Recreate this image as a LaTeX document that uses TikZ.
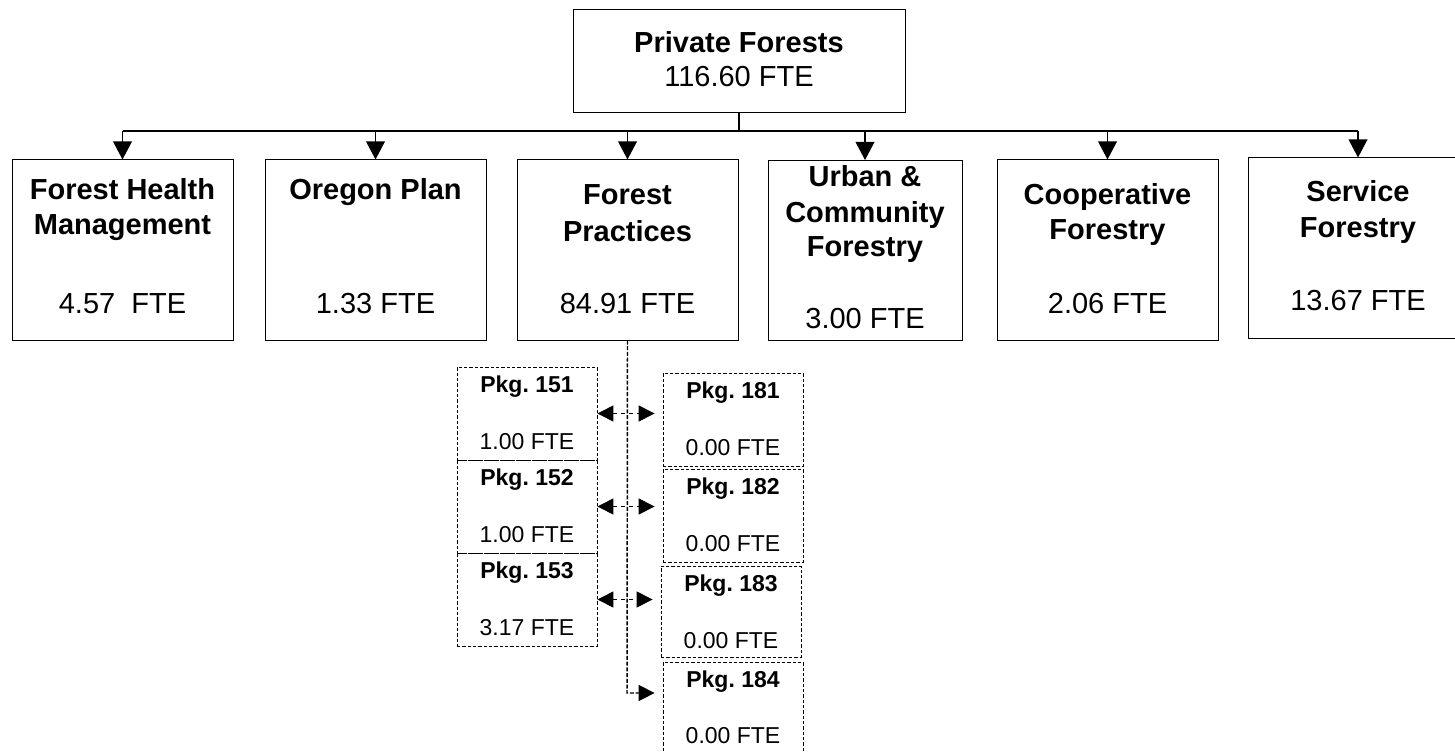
\documentclass[tikz,border=0pt]{standalone}
\usepackage{fontspec}
\setmainfont{Liberation Sans}
\usetikzlibrary{arrows.meta}
\usetikzlibrary{positioning}
\frenchspacing

\tikzset{
  unitbox/.style={draw, line width=0.75pt, minimum width=165.75pt, minimum height=135pt, inner sep=0pt},
  pkgbox/.style={draw, line width=0.6pt, dash pattern=on 2.5pt off 1.5pt, minimum width=105pt, minimum height=69.75pt, inner sep=0pt},
  ttl/.style={font=\fontsize{21.75}{26}\selectfont\bfseries, anchor=base, inner sep=0pt},
  fte/.style={font=\fontsize{21.75}{26}\selectfont, anchor=base, inner sep=0pt},
  pkgttl/.style={font=\fontsize{17.25}{20}\selectfont\bfseries, anchor=base, inner sep=0pt},
  pkgfte/.style={font=\fontsize{17.25}{20}\selectfont, anchor=base, inner sep=0pt},
  down/.style={line width=1.1pt, -{Triangle[width=14pt, length=13.5pt]}},
  link/.style={line width=0.8pt, dash pattern=on 3pt off 3pt, shorten >=6pt,
    {Triangle[width=12pt, length=12pt]}-{Triangle[width=12pt, length=12pt]}}
}

\begin{document}
\begin{tikzpicture}[x=0.75pt, y=-0.75pt]

  \useasboundingbox (0,0) rectangle (1455,752);
  \clip (0,0) rectangle (1455,752);

  % top
  \node [unitbox, minimum width=249pt, minimum height=77.25pt] (pf) at (739,61.5) {};
  \node [ttl] (pf-t) at (739,53) {Private Forests};
  \node [fte] (pf-v) at (739,87) {116.60 FTE};

  \coordinate (bus) at (739,131);

  % units
  \node [unitbox] (fhm) at (122.5,250) {};
  \node [ttl] (fhm-t1) at (122.5,200) {Forest Health};
  \node [ttl] (fhm-t2) at (122.5,235) {Management};
  \node [fte] (fhm-v) at (122.5,313) {4.57\ \ FTE};

  \node [unitbox] (op) at (375.5,250) {};
  \node [ttl] (op-t1) at (375.5,200) {Oregon Plan};
  \node [fte] (op-v) at (375.5,313) {1.33 FTE};

  \node [unitbox] (fp) at (627.5,250) {};
  \node [ttl] (fp-t1) at (627.5,205) {Forest};
  \node [ttl] (fp-t2) at (627.5,242) {Practices};
  \node [fte] (fp-v) at (627.5,313) {84.91 FTE};

  \node [unitbox, minimum width=145.5pt] (ucf) at (865,250.5) {};
  \node [ttl] (ucf-t1) at (865,187) {Urban \&};
  \node [ttl] (ucf-t2) at (865,223) {Community};
  \node [ttl] (ucf-t3) at (865,257) {Forestry};
  \node [fte] (ucf-v) at (865,328) {3.00 FTE};

  \node [unitbox] (cf) at (1107.5,250) {};
  \node [ttl] (cf-t1) at (1107.5,205) {Cooperative};
  \node [ttl] (cf-t2) at (1107.5,240) {Forestry};
  \node [fte] (cf-v) at (1107.5,313) {2.06 FTE};

  \node [unitbox, minimum width=165pt] (sf) at (1358,248) {};
  \node [ttl] (sf-t1) at (1358,202) {Service};
  \node [ttl] (sf-t2) at (1358,238) {Forestry};
  \node [fte] (sf-v) at (1358,310) {13.67 FTE};

  \draw [line width=2.2pt] (pf.south) -- (bus);
  \draw [line width=1.8pt] (fhm.north |- bus) -- (sf.north |- bus);
  \foreach \b in {fhm,op,fp,ucf,cf,sf}
    \draw [down] (\b.north |- bus) -- (\b.north);

  % packages
  \node [pkgbox] (p151) at (527,413.5) {};
  \node [pkgttl] (p151-t) at (527,392) {Pkg. 151};
  \node [pkgfte] (p151-v) at (527,449) {1.00 FTE};

  \node [pkgbox] (p152) at (527,506.5) {};
  \node [pkgttl] (p152-t) at (527,485) {Pkg. 152};
  \node [pkgfte] (p152-v) at (527,542) {1.00 FTE};

  \node [pkgbox] (p153) at (527,599.5) {};
  \node [pkgttl] (p153-t) at (527,578) {Pkg. 153};
  \node [pkgfte] (p153-v) at (527,635) {3.17 FTE};

  \node [pkgbox] (p181) at (733,419.5) {};
  \node [pkgttl] (p181-t) at (733,398) {Pkg. 181};
  \node [pkgfte] (p181-v) at (733,455) {0.00 FTE};

  \node [pkgbox] (p182) at (733,515.5) {};
  \node [pkgttl] (p182-t) at (733,494) {Pkg. 182};
  \node [pkgfte] (p182-v) at (733,551) {0.00 FTE};

  \node [pkgbox, minimum height=68.25pt] (p183) at (731,611.5) {};
  \node [pkgttl] (p183-t) at (731,591) {Pkg. 183};
  \node [pkgfte] (p183-v) at (731,648) {0.00 FTE};

  \node [pkgbox] (p184) at (733,708.5) {};
  \node [pkgttl] (p184-t) at (733,687) {Pkg. 184};
  \node [pkgfte] (p184-v) at (733,743) {0.00 FTE};

  \coordinate (turn) at (627,693);
  \draw [line width=1.1pt, dash pattern=on 3pt off 1.3pt, shorten >=6pt,
    -{Triangle[width=12pt, length=12pt]}] (fp.south) -- (turn) -- (turn -| p184.west);

  \draw [link] (p151.east) -- (p151.east -| p181.west);
  \draw [link] (p152.east) -- (p152.east -| p182.west);
  \draw [link] (p153.east) -- (p153.east -| p183.west);

\end{tikzpicture}
\end{document}
